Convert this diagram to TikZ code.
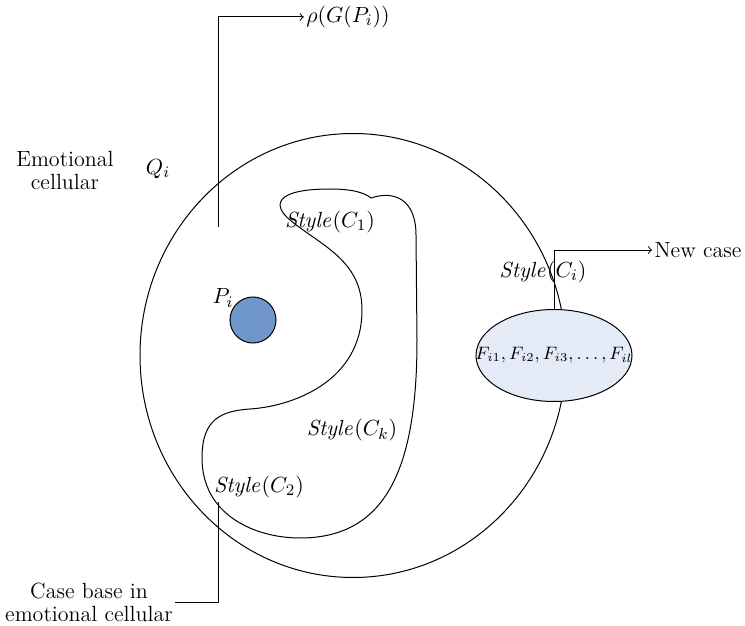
\documentclass[tikz,border=0pt]{standalone}
\usepackage{tikz}
\usetikzlibrary{positioning}
\usetikzlibrary{arrows, shapes}

\begin{document}
\begin{tikzpicture}[x=0.5pt, y=-0.5pt, line width=0.5pt,
	every node/.style={font=\fontsize{11}{13}\selectfont, inner sep=1pt}]

\tikzset{point/.style={draw, circle, fill={rgb,255:red,110;green,150;blue,200},
		minimum size=23pt, inner sep=0pt},
	featbox/.style={draw, ellipse, fill={rgb,255:red,228;green,235;blue,247},
		minimum width=78pt, minimum height=46pt, inner sep=0pt},
	blurb/.style={align=center, font=\fontsize{11}{11.5}\selectfont}
}
\useasboundingbox (0,0) rectangle (745,626);

% big cell
\draw (353,355.5) ellipse [x radius=106.5pt, y radius=111pt];

% case base region
\draw (371,198) .. controls (395,190) and (416,200) .. (416,235)
	-- (417,340) .. controls (417,465) and (388,538) .. (300,538)
	.. controls (255,538) and (202,515) .. (202,458)
	.. controls (202,420) and (220,411) .. (250,409)
	.. controls (295,406) and (362,380) .. (362,310)
	.. controls (362,260) and (320,245) .. (290,220)
	.. controls (272,205) and (275,189) .. (330,189)
	.. controls (350,189) and (364,192) .. (371,198);

\node[blurb] (emo) at (65,170) {Emotional\\cellular};
\node (qi) at (158,169) {$Q_i$};

\node[point] (pi) at (253,320) {};
\node (pilab) at (223,298) {$P_i$};

\node (sc1) at (330,222) {$\mathit{Style}(C_1)$};
\node (sck) at (352,430) {$\mathit{Style}(C_k)$};
\node (sc2) at (259,487) {$\mathit{Style}(C_2)$};
\node (sci) at (543,272) {$\mathit{Style}(C_i)$};

\node[featbox] (feat) at (554,355.5) {};
\node[font=\fontsize{9.1}{11}\selectfont] (featlab) at (feat.center)
	{$F_{i1}, F_{i2}, F_{i3}, \ldots, F_{il}$};

\node (rho) at (348,17) {$\rho(G(P_i))$};
\node (newcase) at (698,250) {New case};
\node[blurb] (casebase) at (89,602) {Case base in\\emotional cellular};

\coordinate (rhostart) at (218,227);
\coordinate (cbstart) at (218,502);

\draw[->] (rhostart) |- (rho.west);
\draw[->] (feat.north) |- (newcase.west);
\draw (casebase.east) -| (cbstart);

\end{tikzpicture}
\end{document}
